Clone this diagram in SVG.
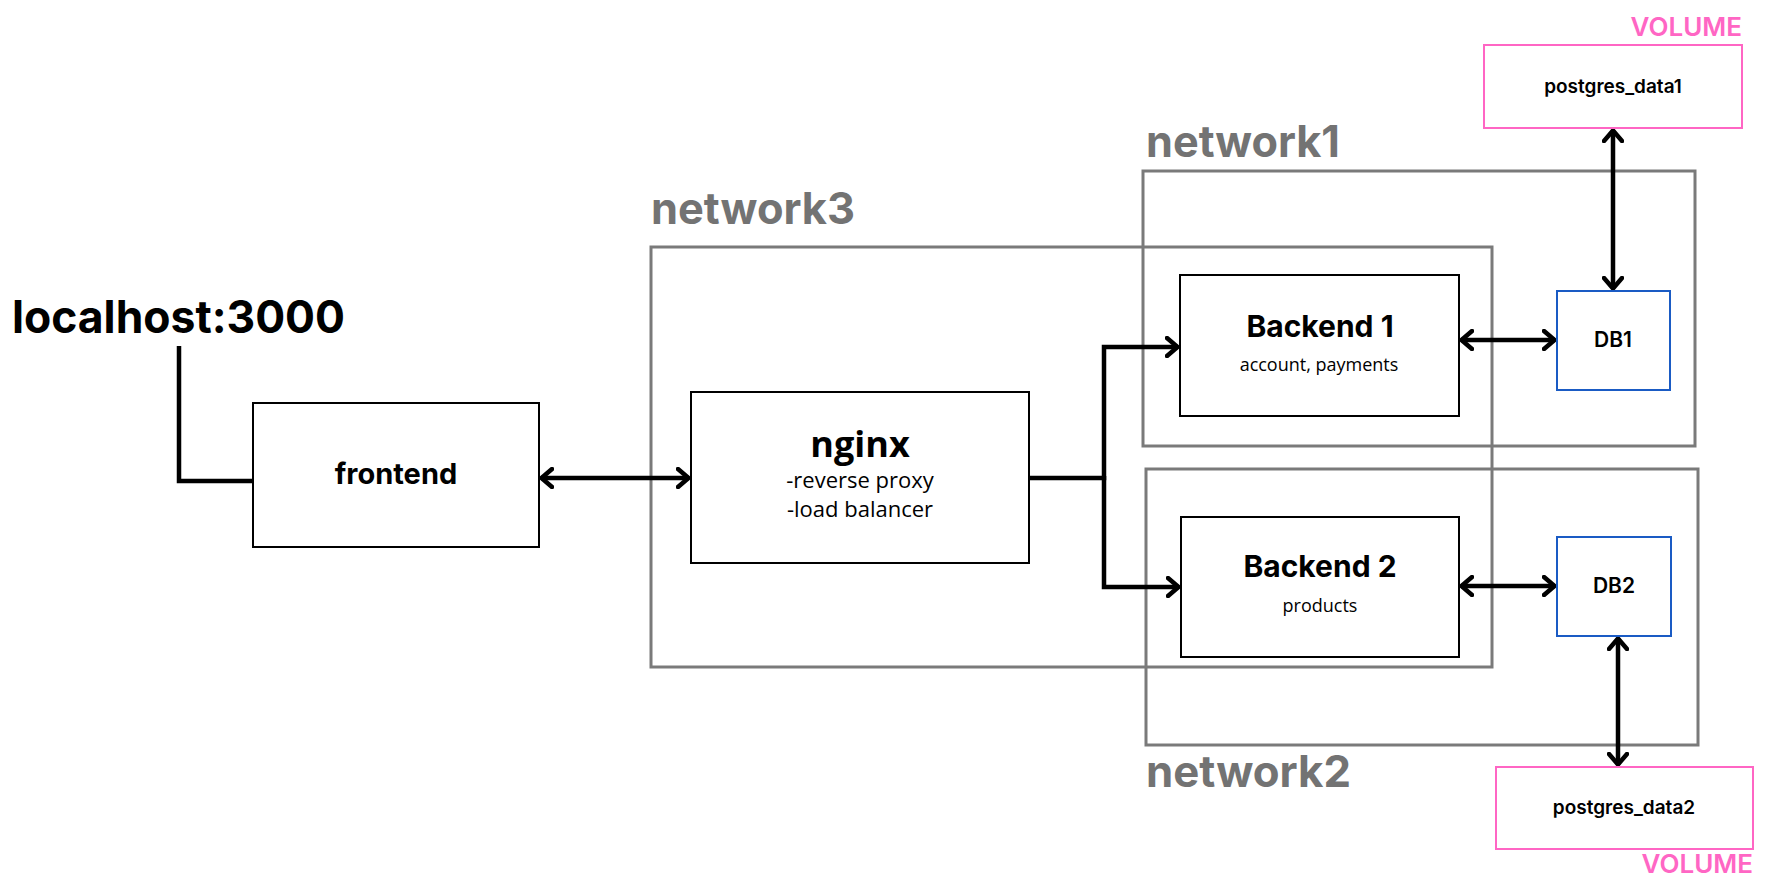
<svg xmlns="http://www.w3.org/2000/svg" width="1772" height="890" viewBox="0 0 1772 890">
<style>
.bg{fill:#ffffff}
.net{fill:none;stroke:#7a7a7a;stroke-width:3}
.netlbl{font-family:Inter,"Liberation Sans",sans-serif;font-weight:700;font-size:44px;fill:#737373}
.box{fill:#ffffff;stroke:#000000;stroke-width:2}
.db{fill:#ffffff;stroke:#1a5bc4;stroke-width:2}
.vol{fill:#ffffff;stroke:#ff66c4;stroke-width:2}
.vollbl{font-family:Inter,"Liberation Sans",sans-serif;font-weight:600;font-size:26px;fill:#ff66c4}
.dm{font-family:Inter,"Liberation Sans",sans-serif;fill:#000000}
.os{font-family:"Open Sans","Liberation Sans",sans-serif;fill:#000000}
.conn{fill:none;stroke:#000000;stroke-width:4.5;stroke-linejoin:miter}
</style>
<defs>
<marker id="arr" viewBox="0 0 14 22" refX="13" refY="11" markerWidth="14" markerHeight="22" markerUnits="userSpaceOnUse" orient="auto-start-reverse">
<path d="M2,2 L12.5,11 L2,20" fill="none" stroke="#000" stroke-width="4.5" stroke-linecap="round" stroke-linejoin="round"/>
</marker>
</defs>
<rect class="bg" x="0" y="0" width="1772" height="890"/>

<g id="network3">
<rect class="net" x="651" y="247" width="841" height="420"/>
<text class="netlbl" x="651" y="224" textLength="204" lengthAdjust="spacingAndGlyphs">network3</text>
</g>
<g id="network1">
<rect class="net" x="1143" y="171" width="552" height="275" stroke-width="2.5"/>
<text class="netlbl" x="1146" y="157" textLength="194" lengthAdjust="spacingAndGlyphs">network1</text>
</g>
<g id="network2">
<rect class="net" x="1146" y="469" width="552" height="276" stroke-width="2.5"/>
<text class="netlbl" x="1146" y="787" textLength="205" lengthAdjust="spacingAndGlyphs">network2</text>
</g>

<g id="connectors">
<polyline class="conn" points="179,346 179,481 253,481"/>
<line class="conn" x1="541" y1="478" x2="689" y2="478" marker-start="url(#arr)" marker-end="url(#arr)"/>
<path class="conn" d="M1029,478 H1104 V347 H1178" marker-end="url(#arr)"/>
<path class="conn" d="M1104,476 V587 H1179" marker-end="url(#arr)"/>
<line class="conn" x1="1461" y1="340" x2="1555" y2="340" marker-start="url(#arr)" marker-end="url(#arr)"/>
<line class="conn" x1="1461" y1="586" x2="1555" y2="586" marker-start="url(#arr)" marker-end="url(#arr)"/>
<line class="conn" x1="1613" y1="130" x2="1613" y2="289" marker-start="url(#arr)" marker-end="url(#arr)"/>
<line class="conn" x1="1618" y1="638" x2="1618" y2="765" marker-start="url(#arr)" marker-end="url(#arr)"/>
</g>

<g id="localhost">
<text class="dm" x="12" y="333" font-size="45" font-weight="700" textLength="333" lengthAdjust="spacingAndGlyphs">localhost:3000</text>
</g>
<g id="frontend">
<rect class="box" x="253" y="403" width="286" height="144"/>
<text class="dm" x="396" y="484" font-size="29" font-weight="700" text-anchor="middle">frontend</text>
</g>
<g id="nginx">
<rect class="box" x="691" y="392" width="338" height="171"/>
<text class="os" x="860" y="457" font-size="36" font-weight="700" text-anchor="middle">nginx</text>
<text class="os" x="860" y="488" font-size="22" text-anchor="middle">-reverse proxy</text>
<text class="os" x="860" y="517" font-size="22" text-anchor="middle">-load balancer</text>
</g>
<g id="backend1">
<rect class="box" x="1180" y="275" width="279" height="141"/>
<text class="dm" x="1320" y="337" font-size="30" font-weight="700" text-anchor="middle">Backend 1</text>
<text class="os" x="1319" y="371" font-size="18" text-anchor="middle">account, payments</text>
</g>
<g id="backend2">
<rect class="box" x="1181" y="517" width="278" height="140"/>
<text class="dm" x="1320" y="577" font-size="30" font-weight="700" text-anchor="middle">Backend 2</text>
<text class="os" x="1320" y="612" font-size="18" text-anchor="middle">products</text>
</g>
<g id="db1">
<rect class="db" x="1557" y="291" width="113" height="99"/>
<text class="dm" x="1613" y="347" font-size="21" font-weight="600" text-anchor="middle">DB1</text>
</g>
<g id="db2">
<rect class="db" x="1557" y="537" width="114" height="99"/>
<text class="dm" x="1614" y="593" font-size="21" font-weight="600" text-anchor="middle">DB2</text>
</g>
<g id="volume1">
<rect class="vol" x="1484" y="45" width="258" height="83"/>
<text class="dm" x="1613" y="93" font-size="19" font-weight="600" text-anchor="middle">postgres_data1</text>
<text class="vollbl" x="1742" y="36" text-anchor="end">VOLUME</text>
</g>
<g id="volume2">
<rect class="vol" x="1496" y="767" width="257" height="82"/>
<text class="dm" x="1624" y="814" font-size="19" font-weight="600" text-anchor="middle">postgres_data2</text>
<text class="vollbl" x="1753" y="873" text-anchor="end">VOLUME</text>
</g>
</svg>
